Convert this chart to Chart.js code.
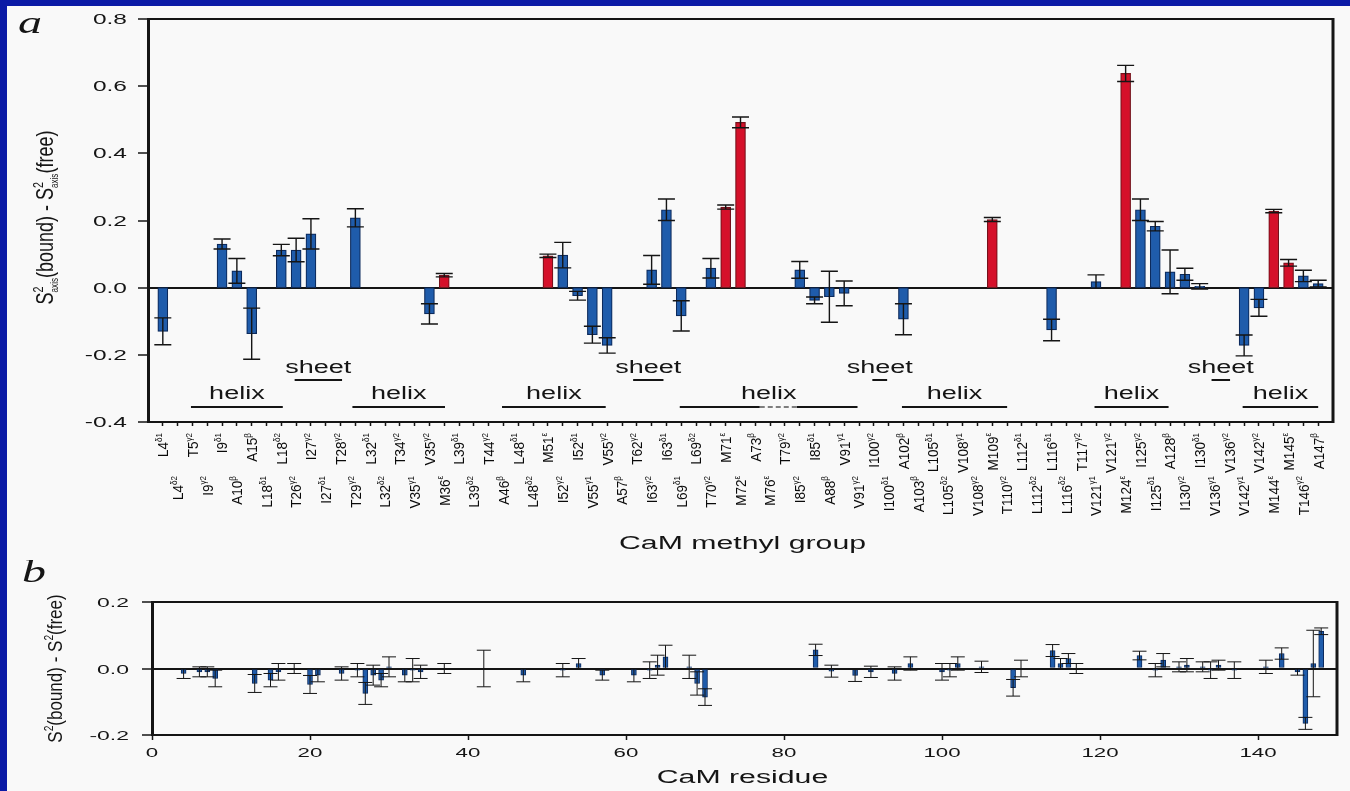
<!DOCTYPE html>
<html>
<head>
<meta charset="utf-8">
<script src="https://cdn.jsdelivr.net/npm/chart.js@4.4.1/dist/chart.umd.min.js"></script>
<style>
  html, body { margin: 0; padding: 0; background: #0b1aa6; overflow: hidden; }
  #sheet { position: absolute; left: 7px; top: 6px; width: 1343px; height: 785px; background: #f9f9f9; }
  #chartA { position: absolute; left: 0; top: 0; }
  #chartB { position: absolute; left: 0; top: 554px; }
</style>
</head>
<body>
<div id="sheet">
  <canvas id="chartA" width="1343" height="554"></canvas>
  <canvas id="chartB" width="1343" height="231"></canvas>
</div>
<script>
// ---- panel a: methyl groups (interleaved order, as on the axis) ----
const methylRes = ['L4','L4','T5','I9','I9','A10','A15','L18','L18','T26','I27','I27','T28','T29','L32','L32',
  'T34','V35','V35','M36','L39','L39','T44','A46','L48','L48','M51','I52','I52','V55','V55','A57','T62',
  'I63','I63','L69','L69','T70','M71','M72','A73','M76','T79','I85','I85','A88','V91','V91','I100','I100',
  'A102','A103','L105','L105','V108','V108','M109','T110','L112','L112','L116','L116','T117','V121','V121',
  'M124','I125','I125','A128','I130','I130','V136','V136','V142','V142','M144','M145','T146','A147'];
const methylAtom = ['δ1','δ2','γ2','γ2','δ1','β','β','δ1','δ2','γ2','γ2','δ1','γ2','γ2','δ1','δ2',
  'γ2','γ1','γ2','ε','δ1','δ2','γ2','β','δ1','δ2','ε','γ2','δ1','γ1','γ2','β','γ2',
  'γ2','δ1','δ1','δ2','γ2','ε','ε','β','ε','γ2','γ2','δ1','β','γ1','γ2','γ2','δ1',
  'β','β','δ1','δ2','γ1','γ2','ε','γ2','δ1','δ2','δ1','δ2','γ2','γ1','γ2',
  'ε','γ2','δ1','β','γ2','δ1','γ1','γ2','γ1','γ2','ε','ε','γ2','β'];
const methylValues = [-0.13,null,null,null,0.13,0.05,-0.137,null,0.112,0.112,0.16,null,null,0.208,null,null,
  null,null,-0.078,0.037,null,null,null,null,null,null,0.095,0.097,-0.024,-0.14,-0.172,null,null,
  0.053,0.232,-0.084,null,0.058,0.24,0.492,null,null,null,0.053,-0.038,-0.027,-0.017,null,null,null,
  -0.094,null,null,null,null,null,0.203,null,null,null,-0.126,null,null,0.018,null,
  0.638,0.232,0.183,0.047,0.04,0.004,null,null,-0.172,-0.06,0.228,0.074,0.035,0.012];
const methylErrors = [0.04,null,null,null,0.015,0.037,0.076,null,0.017,0.035,0.045,null,null,0.027,null,null,
  null,null,0.03,0.005,null,null,null,null,null,null,0.005,0.038,0.013,0.025,0.023,null,null,
  0.043,0.032,0.045,null,0.029,0.006,0.016,null,null,null,0.025,0.01,0.076,0.037,null,null,null,
  0.046,null,null,null,null,null,0.006,null,null,null,0.032,null,null,0.02,null,
  0.024,0.032,0.014,0.065,0.018,0.008,null,null,0.031,0.025,0.005,0.01,0.017,0.01];

// secondary structure, in axis units of panel a
const helixSpans = [[2.9, 9.1], [13.8, 20.05], [23.9, 30.9], [35.9, 47.9], [50.9, 58], [63.9, 68.9], [73.9, 79]];
const helixBreaks = [[41.3, 43.8]];
const sheetSpans = [[9.9, 13.1], [32.75, 34.8], [48.9, 49.9], [71.8, 73.05]];

// ---- panel b: backbone per residue ----
const residueNumbers = [4,6,7,8,13,15,16,18,20,21,24,26,27,28,29,30,32,33,34,37,42,47,52,54,57,61,63,64,65,
  68,69,70,84,86,89,91,94,96,100,101,102,105,109,110,114,115,116,117,125,127,128,130,131,133,134,135,137,
  141,143,145,146,147,148];
const residueValues = [-0.015,-0.01,-0.01,-0.03,-0.045,-0.035,-0.01,0.0,-0.048,-0.02,-0.015,-0.005,-0.075,-0.02,
  -0.035,0.005,-0.02,-0.005,-0.01,0.0,0.0,-0.02,-0.005,0.015,-0.02,-0.02,-0.005,0.01,0.035,
  0.005,-0.045,-0.086,0.056,-0.008,-0.021,-0.01,-0.015,0.015,-0.01,-0.005,0.015,0.005,-0.058,0.0,0.054,0.015,
  0.03,0.0,0.039,-0.005,0.025,0.005,0.01,0.005,-0.005,0.01,-0.005,
  0.005,0.045,-0.01,-0.165,0.015,0.112];
const residueErrors = [0.015,0.015,0.015,0.025,0.027,0.02,0.025,0.015,0.027,0.02,0.02,0.02,0.033,0.03,
  0.02,0.03,0.02,0.035,0.02,0.015,0.055,0.02,0.02,0.015,0.015,0.02,0.025,0.03,0.035,
  0.035,0.035,0.025,0.017,0.018,0.018,0.017,0.02,0.02,0.025,0.02,0.02,0.017,0.025,0.025,0.018,0.015,
  0.015,0.015,0.013,0.02,0.02,0.015,0.02,0.015,0.025,0.015,0.025,
  0.02,0.017,0.01,0.018,0.1,0.01];

const FONT = '"Liberation Sans", Arial, Helvetica, sans-serif';
const SERIF = '"Liberation Serif", "Times New Roman", serif';
const INK = '#151515';
const BLUE = '#1f5cab';
const BLUE_EDGE = '#0c2a5c';
const RED = '#d5102a';
const RED_EDGE = '#76101a';

// draws runs of text; each run {t, k (size factor), dy (em), adv}
function rich(ctx, runs, x, y, o) {
  const size = o.size;
  ctx.save();
  ctx.translate(x, y);
  ctx.scale(o.sx || 1, 1);
  if (o.rot) ctx.rotate(o.rot);
  ctx.fillStyle = o.color || INK;
  ctx.textBaseline = 'alphabetic';
  ctx.textAlign = 'left';
  let w = 0;
  const parts = runs.map(r => {
    ctx.font = `${o.style || 'normal'} ${size * (r.k || 1)}px ${o.family || FONT}`;
    const p = { r, x: w, font: ctx.font };
    if (r.adv !== false) w += ctx.measureText(r.t).width;
    return p;
  });
  const x0 = o.align === 'right' ? -w : o.align === 'center' ? -w / 2 : 0;
  const base = o.mid ? 0.36 * size : 0;
  parts.forEach(p => {
    ctx.font = p.font;
    ctx.fillText(p.r.t, x0 + p.x, base + (p.r.dy || 0) * size);
  });
  ctx.restore();
}
function txt(ctx, s, x, y, o) { rich(ctx, [{ t: s }], x, y, o); }

const fmt = v => (Math.abs(v) < 1e-9 ? 0 : v).toFixed(1);

function makeErrorBars(values, errors, cap, width) {
  return {
    id: 'errorBars',
    afterDatasetsDraw(chart) {
      const { ctx } = chart;
      const y = chart.scales.y;
      const meta = chart.getDatasetMeta(0);
      ctx.save();
      ctx.strokeStyle = INK;
      ctx.lineWidth = width;
      values.forEach((v, i) => {
        const e = errors[i];
        if (v == null || e == null) return;
        const px = meta.data[i].x;
        const top = y.getPixelForValue(v + e), bot = y.getPixelForValue(v - e);
        ctx.beginPath();
        ctx.moveTo(px, top); ctx.lineTo(px, bot);
        ctx.moveTo(px - cap, top); ctx.lineTo(px + cap, top);
        ctx.moveTo(px - cap, bot); ctx.lineTo(px + cap, bot);
        ctx.stroke();
      });
      ctx.restore();
    }
  };
}

function frame(ctx, a) {
  ctx.save();
  ctx.strokeStyle = INK;
  ctx.lineWidth = 2;
  ctx.beginPath(); ctx.moveTo(a.left, a.top); ctx.lineTo(a.right, a.top); ctx.stroke();
  ctx.lineWidth = 3;
  ctx.beginPath(); ctx.moveTo(a.right, a.top - 1); ctx.lineTo(a.right, a.bottom + 1); ctx.stroke();
  ctx.restore();
}

const isMet = i => methylRes[i].startsWith('M');

const panelAText = {
  id: 'panelAText',
  afterDraw(chart) {
    const { ctx, chartArea: a, scales: { x, y } } = chart;
    frame(ctx, a);
    // y tick labels
    y.ticks.forEach(t => txt(ctx, fmt(t.value), a.left - 21, y.getPixelForValue(t.value) + 5, { size: 14, sx: 1.75, align: 'right' }));
    // staggered methyl labels
    methylRes.forEach((r, i) => {
      const px = x.getPixelForValue(i + 1);
      const py = a.bottom + (i % 2 === 0 ? 11 : 54);
      rich(ctx, [{ t: r }, { t: methylAtom[i], k: 0.6, dy: -0.42 }], px, py,
        { size: 13.5, sx: 1.1, rot: -Math.PI / 2, align: 'right', mid: true, color: '#0a0a0a' });
    });
    // secondary structure
    ctx.save();
    ctx.strokeStyle = INK;
    ctx.lineWidth = 2;
    const yHelix = y.getPixelForValue(-0.355), ySheet = y.getPixelForValue(-0.275);
    helixSpans.forEach(([s, e]) => {
      ctx.beginPath(); ctx.moveTo(x.getPixelForValue(s), yHelix); ctx.lineTo(x.getPixelForValue(e), yHelix); ctx.stroke();
      txt(ctx, 'helix', x.getPixelForValue((s + e) / 2), y.getPixelForValue(-0.331), { size: 18, sx: 1.5, align: 'center' });
    });
    helixBreaks.forEach(([s, e]) => {
      ctx.strokeStyle = '#f9f9f9';
      ctx.lineWidth = 3;
      ctx.beginPath(); ctx.moveTo(x.getPixelForValue(s), yHelix); ctx.lineTo(x.getPixelForValue(e), yHelix); ctx.stroke();
      ctx.strokeStyle = '#555';
      ctx.lineWidth = 1.5;
      ctx.setLineDash([5, 3]);
      ctx.beginPath(); ctx.moveTo(x.getPixelForValue(s), yHelix); ctx.lineTo(x.getPixelForValue(e), yHelix); ctx.stroke();
      ctx.setLineDash([]);
    });
    ctx.strokeStyle = INK;
    ctx.lineWidth = 2;
    sheetSpans.forEach(([s, e]) => {
      ctx.beginPath(); ctx.moveTo(x.getPixelForValue(s), ySheet); ctx.lineTo(x.getPixelForValue(e), ySheet); ctx.stroke();
      txt(ctx, 'sheet', x.getPixelForValue((s + e) / 2), y.getPixelForValue(-0.254), { size: 18, sx: 1.5, align: 'center' });
    });
    ctx.restore();
    // axis titles
    txt(ctx, 'CaM methyl group', (a.left + a.right) / 2 + 2, a.bottom + 127, { size: 18, sx: 1.68, align: 'center' });
    rich(ctx, [
      { t: 'S' }, { t: '2', k: 0.6, dy: -0.42, adv: false }, { t: 'axis', k: 0.45, dy: 0.2 },
      { t: '(bound) - ' },
      { t: 'S' }, { t: '2', k: 0.6, dy: -0.42, adv: false }, { t: 'axis', k: 0.45, dy: 0.2 },
      { t: '(free)' }
    ], a.left - 95, (a.top + a.bottom) / 2 - 3, { size: 18, sx: 1.3, rot: -Math.PI / 2, align: 'center' });
    txt(ctx, 'a', 11, 27, { size: 32, sx: 1.5, style: 'italic', family: SERIF });
  }
};

const panelBText = {
  id: 'panelBText',
  afterDraw(chart) {
    const { ctx, chartArea: a, scales: { x, y } } = chart;
    frame(ctx, a);
    y.ticks.forEach(t => txt(ctx, fmt(t.value), a.left - 23, y.getPixelForValue(t.value) + 5, { size: 13.5, sx: 1.7, align: 'right' }));
    x.ticks.forEach(t => txt(ctx, String(t.value), x.getPixelForValue(t.value), a.bottom + 22, { size: 13.5, sx: 1.65, align: 'center' }));
    txt(ctx, 'CaM residue', (a.left + a.right) / 2 - 2, a.bottom + 48, { size: 18, sx: 1.68, align: 'center' });
    rich(ctx, [
      { t: 'S' }, { t: '2', k: 0.6, dy: -0.42 }, { t: '(bound) - ' },
      { t: 'S' }, { t: '2', k: 0.6, dy: -0.42 }, { t: '(free)' }
    ], a.left - 90, (a.top + a.bottom) / 2, { size: 17, sx: 1.2, rot: -Math.PI / 2, align: 'center' });
    txt(ctx, 'b', 15, 22, { size: 32, sx: 1.5, style: 'italic', family: SERIF });
  }
};

const yGrid = {
  color: c => Math.abs(c.tick.value) < 1e-9 ? INK : 'rgba(0,0,0,0)',
  lineWidth: 2,
  drawTicks: true,
  tickLength: 10,
  tickColor: INK,
  tickWidth: 1.5
};

new Chart(document.getElementById('chartA'), {
  type: 'bar',
  data: {
    datasets: [{
      data: methylValues.map((v, i) => ({ x: i + 1, y: v })),
      backgroundColor: c => isMet(c.dataIndex) ? RED : BLUE,
      borderColor: c => isMet(c.dataIndex) ? RED_EDGE : BLUE_EDGE,
      borderWidth: 1.2,
      borderSkipped: false,
      barThickness: 10
    }]
  },
  options: {
    responsive: false,
    animation: false,
    devicePixelRatio: 1,
    layout: { padding: { left: 131, right: 17, top: 13, bottom: 134 } },
    plugins: { legend: { display: false }, tooltip: { enabled: false } },
    scales: {
      x: {
        type: 'linear', min: 0, max: 80, offset: false,
        afterBuildTicks: s => { s.ticks = s.ticks.filter(t => t.value >= 1 && t.value <= 79); },
        ticks: { display: false, stepSize: 1, autoSkip: false },
        grid: { offset: false, drawOnChartArea: false, drawTicks: true, tickLength: 4, tickColor: INK, tickWidth: 1.5 },
        border: { display: true, color: INK, width: 2 }
      },
      y: {
        min: -0.4, max: 0.8,
        ticks: { display: false, stepSize: 0.2 },
        grid: yGrid,
        border: { display: true, color: INK, width: 3 }
      }
    }
  },
  plugins: [makeErrorBars(methylValues, methylErrors, 8.5, 1.4), panelAText]
});

new Chart(document.getElementById('chartB'), {
  type: 'bar',
  data: {
    datasets: [{
      data: residueNumbers.map((r, i) => ({ x: r, y: residueValues[i] })),
      backgroundColor: BLUE,
      borderColor: BLUE_EDGE,
      borderWidth: 1,
      borderSkipped: false,
      barThickness: 5
    }]
  },
  options: {
    responsive: false,
    animation: false,
    devicePixelRatio: 1,
    layout: { padding: { left: 135, right: 13, top: 42, bottom: 51 } },
    plugins: { legend: { display: false }, tooltip: { enabled: false } },
    scales: {
      x: {
        type: 'linear', min: 0, max: 150, offset: false,
        afterBuildTicks: s => { s.ticks = s.ticks.filter(t => t.value % 20 === 0); },
        ticks: { display: false, stepSize: 20 },
        grid: { offset: false, drawOnChartArea: false, drawTicks: true, tickLength: 5, tickColor: INK, tickWidth: 1.5 },
        border: { display: true, color: INK, width: 2 }
      },
      y: {
        min: -0.2, max: 0.2,
        ticks: { display: false, stepSize: 0.2 },
        grid: yGrid,
        border: { display: true, color: INK, width: 3 }
      }
    }
  },
  plugins: [makeErrorBars(residueValues, residueErrors, 7, 1), panelBText]
});
</script>
</body>
</html>
